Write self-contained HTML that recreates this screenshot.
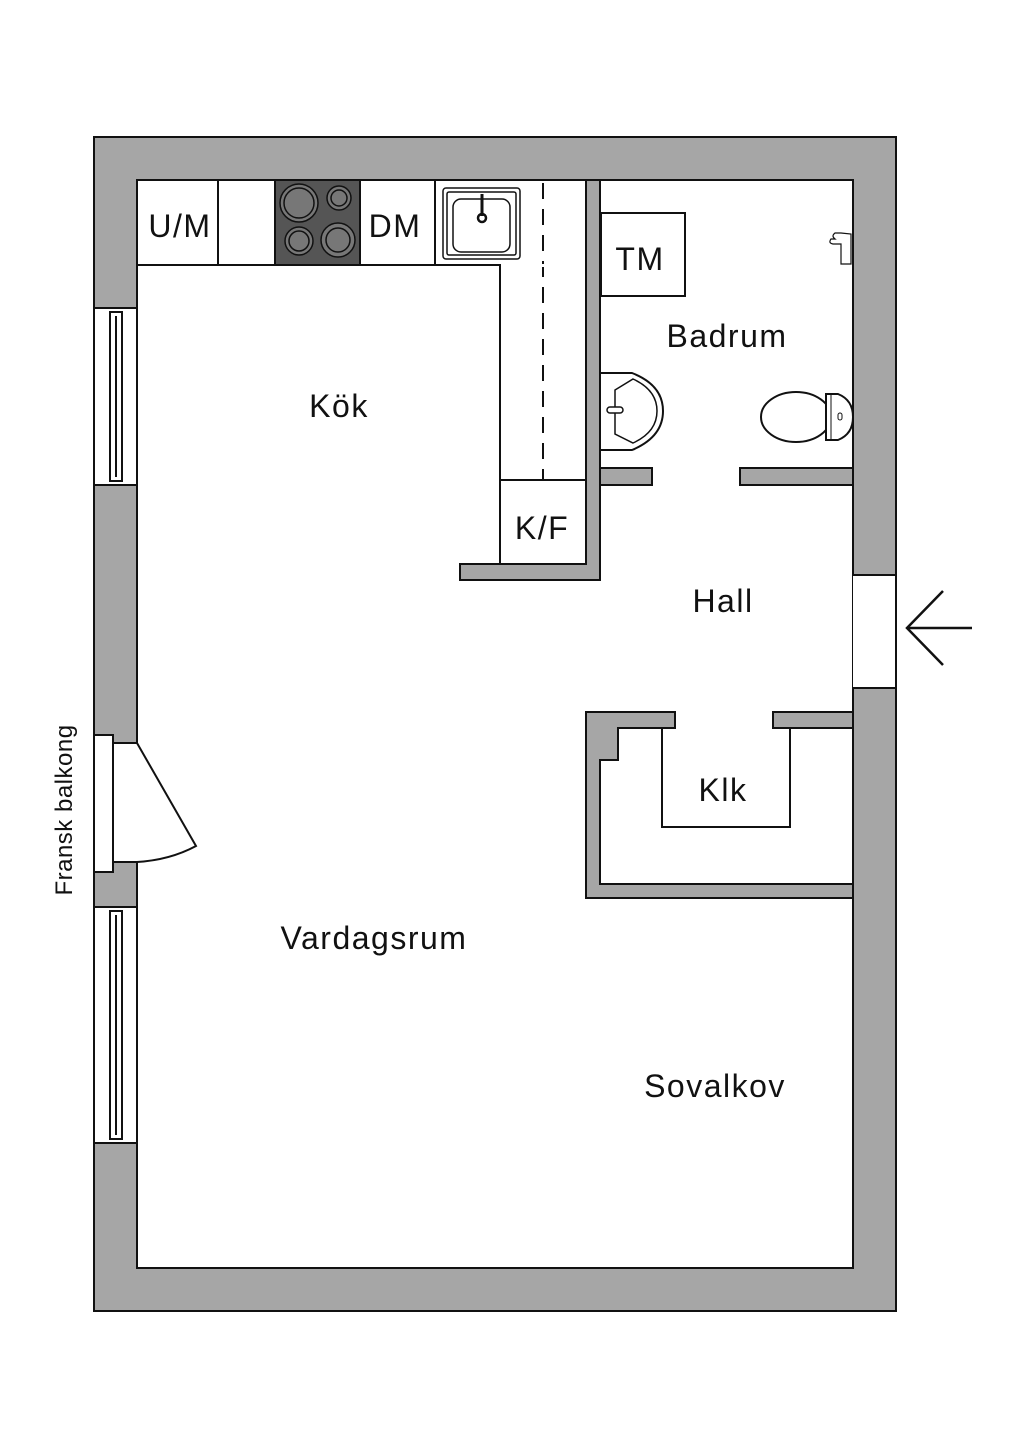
<!DOCTYPE html>
<html><head><meta charset="utf-8"><style>
html,body{margin:0;padding:0;background:#fff}
svg{display:block}
text{font-family:"Liberation Sans",sans-serif;fill:#111}
</style></head><body>
<svg width="1024" height="1448" viewBox="0 0 1024 1448" xmlns="http://www.w3.org/2000/svg">
<g stroke="#111" stroke-width="2">
<path fill="#a6a6a6" fill-rule="evenodd" d="M94 137H896V1311H94Z M137 180H853V1268H137Z"/>
<rect x="853" y="575" width="43" height="113" fill="#fff" stroke="none"/>
<line x1="896" y1="575" x2="896" y2="688"/>
<line x1="853" y1="575" x2="896" y2="575"/>
<line x1="853" y1="688" x2="896" y2="688"/>
<rect x="94" y="308" width="43" height="177" fill="#fff"/>
<rect x="110" y="312" width="12" height="169" fill="#fff"/>
<line x1="116" y1="316" x2="116" y2="477"/>
<rect x="94" y="907" width="43" height="236" fill="#fff"/>
<rect x="110" y="911" width="12" height="228" fill="#fff"/>
<line x1="116" y1="915" x2="116" y2="1135"/>
<rect x="113" y="743" width="24" height="119" fill="#fff" stroke="none"/>
<rect x="94" y="735" width="19" height="137" fill="#fff"/>
<path d="M137 743 L196 846 Q170 860 137 862" fill="#fff"/>
<line x1="113" y1="743" x2="137" y2="743"/>
<line x1="113" y1="862" x2="137" y2="862"/>
<path fill="#a6a6a6" d="M586 180H600V580H460V564H586Z"/>
<rect x="600" y="468" width="52" height="17" fill="#a6a6a6"/>
<rect x="740" y="468" width="113" height="17" fill="#a6a6a6"/>
<path fill="#a6a6a6" d="M586 712H675V728H618V760H600V884H853V898H586Z"/>
<rect x="773" y="712" width="80" height="16" fill="#a6a6a6"/>
<path fill="none" d="M662 728V827H790V728"/>
<rect x="137" y="180" width="449" height="85" fill="#fff"/>
<rect x="500" y="265" width="86" height="299" fill="#fff"/>
<line x1="500" y1="480" x2="586" y2="480"/>
<line x1="218" y1="180" x2="218" y2="265"/>
<line x1="435" y1="180" x2="435" y2="265"/>
<rect x="275" y="180" width="85" height="85" fill="#555"/>
<line x1="543" y1="183" x2="543" y2="480" stroke-dasharray="16 10"/>
</g>
<rect x="501" y="264" width="84" height="3" fill="#fff"/>
<g stroke="#111" fill="#777" stroke-width="1.5">
<circle cx="299" cy="203" r="19"/><circle cx="299" cy="203" r="15"/>
<circle cx="339" cy="198" r="12"/><circle cx="339" cy="198" r="8"/>
<circle cx="299" cy="241" r="14"/><circle cx="299" cy="241" r="10"/>
<circle cx="338" cy="240" r="17"/><circle cx="338" cy="240" r="12"/>
</g>
<g stroke="#111" fill="none" stroke-width="1.5">
<rect x="443" y="188" width="77" height="71" rx="3"/>
<rect x="447" y="192" width="69" height="63" rx="2"/>
<rect x="453" y="199" width="57" height="53" rx="8"/>
<line x1="482" y1="194" x2="482" y2="216" stroke-width="3"/>
<circle cx="482" cy="218" r="4" stroke-width="2.5"/>
</g>
<g stroke="#111" fill="#fff" stroke-width="2">
<rect x="601" y="213" width="84" height="83"/>
<path d="M601 373H632Q663 385 663 411Q663 437 632 450H601"/>
<path d="M615 390L633 379Q657 390 657 411Q657 432 633 443L615 434Z" fill="none" stroke-width="1.5"/>
<rect x="607" y="407" width="16" height="6" rx="3" fill="#fff" stroke-width="1.5"/>
<ellipse cx="796" cy="417" rx="35" ry="25"/>
<path d="M826 394H838Q853 400 853 417Q853 434 838 440H826Z"/>
<line x1="831" y1="395" x2="831" y2="439" stroke-width="1"/>
<rect x="838" y="413" width="4" height="7" rx="2" stroke-width="1"/>
<path d="M841 233h-6q-4 3 0 6h-4q-3 4 2 5h8v20h10v-30z" stroke-width="1.2"/>
</g>
<g stroke="#111" stroke-width="2.5" fill="none">
<line x1="907" y1="628" x2="972" y2="628"/>
<polyline points="943,591 907,628 943,665"/>
</g>
<g font-size="32" text-anchor="middle" letter-spacing="1.5">
<text x="180" y="237">U/M</text>
<text x="395" y="237">DM</text>
<text x="640" y="270">TM</text>
<text x="727" y="347">Badrum</text>
<text x="339" y="417">Kök</text>
<text x="542" y="539">K/F</text>
<text x="723" y="612">Hall</text>
<text x="723" y="801">Klk</text>
<text x="374" y="949">Vardagsrum</text>
<text x="715" y="1097">Sovalkov</text>
</g>
<text x="0" y="0" font-size="24" text-anchor="middle" letter-spacing="0.5" transform="translate(72 810) rotate(-90)">Fransk balkong</text>
</svg>
</body></html>
